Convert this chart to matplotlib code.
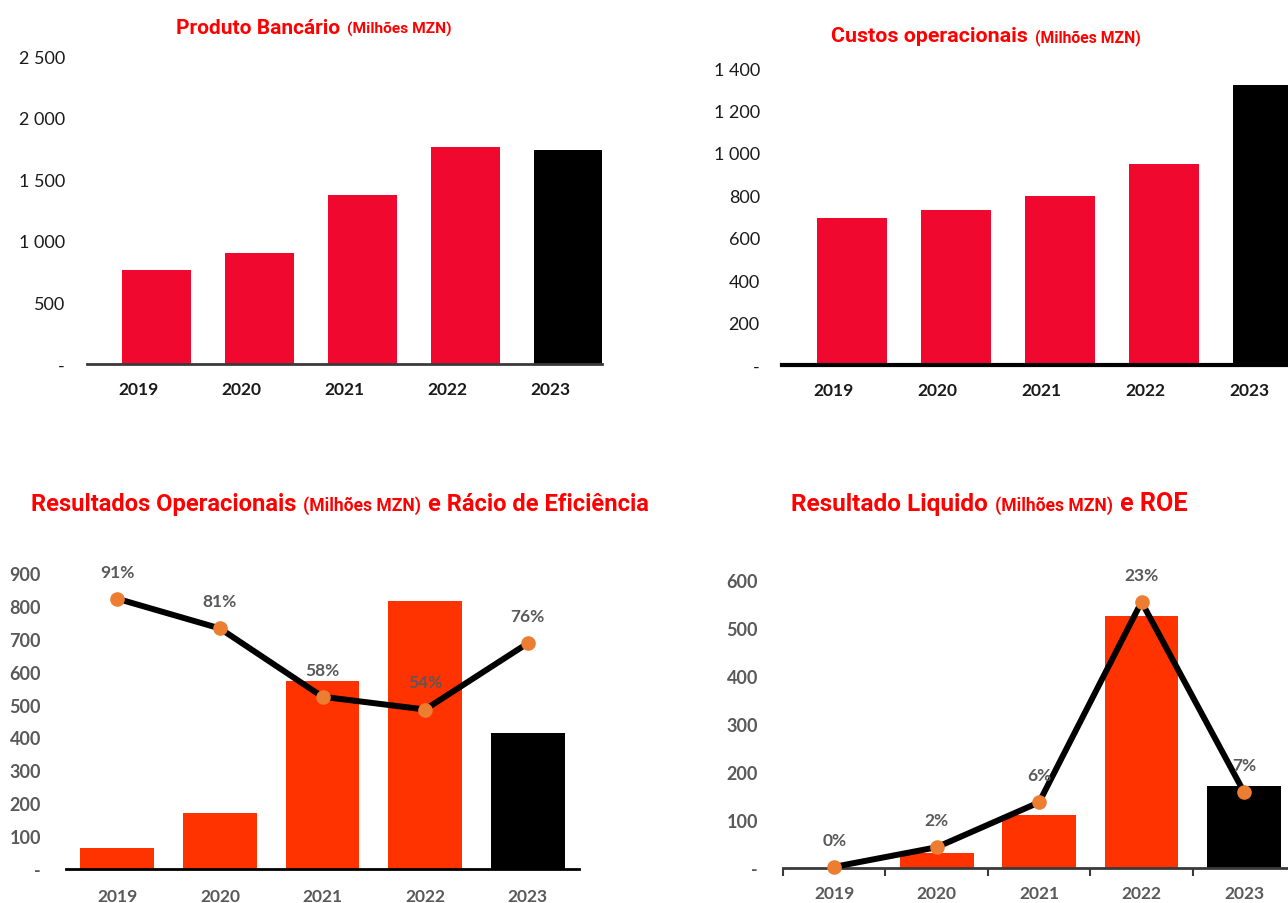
import matplotlib.pyplot as plt
from matplotlib.ticker import FuncFormatter, FixedLocator, MultipleLocator

# data
years = ["2019", "2020", "2021", "2022", "2023"]
produto_bancario = [763, 901, 1372, 1761, 1737]
custos_operacionais = [693, 731, 797, 948, 1321]
resultados_operacionais = [64, 170, 571, 815, 413]
racio_eficiencia = [0.91, 0.81, 0.58, 0.537, 0.76]
resultado_liquido = [0, 31, 110, 525, 171]
roe = [0.001, 0.018, 0.057, 0.231, 0.066]

RED = "#F0082F"
ORANGE_RED = "#FF3300"
MARKER = "#ED7D31"
TITLE_RED = "#FF0000"
GREY = "#595959"
TITLE_FONT = ["Roboto", "DejaVu Sans"]
TICK_FONT = ["Lato", "DejaVu Sans"]

W, H = 1288, 904
fig = plt.figure(figsize=(W / 100, H / 100), dpi=100)
fig.patch.set_facecolor("white")


def px_axes(left, right, bottom, top):
    # pixel box (from top-left corner) -> figure axes
    return fig.add_axes([left / W, 1 - bottom / H, (right - left) / W, (bottom - top) / H])


def thousands(v, pos=None):
    if abs(v) < 1e-9:
        return "-"
    return f"{v:,.0f}".replace(",", " ")


def mixed_title(xc, y_px, parts, gap=7):
    # parts: (text, width in px the piece takes in the reference)
    r = fig.canvas.get_renderer()
    texts, widths = [], []
    for s, target in parts:
        t = fig.text(0, 1 - y_px / H, s, fontsize=20, color=TITLE_RED, fontweight="bold",
                     family=TITLE_FONT, va="baseline", ha="left")
        w = t.get_window_extent(r).width
        t.set_fontsize(20 * target / w)
        texts.append(t)
        widths.append(t.get_window_extent(r).width)
    x = xc - (sum(widths) + gap * (len(widths) - 1)) / 2
    for t, w in zip(texts, widths):
        t.set_x(x / W)
        x += w + gap


def base_style(ax, ylim, step, tick_color, bold, spine_color, spine_w, pad_y, pad_x):
    for side in ["top", "right", "left"]:
        ax.spines[side].set_visible(False)
    ax.spines["bottom"].set_color(spine_color)
    ax.spines["bottom"].set_linewidth(spine_w)
    ax.set_ylim(*ylim)
    ax.yaxis.set_major_locator(MultipleLocator(step))
    ax.yaxis.set_major_formatter(FuncFormatter(thousands))
    ax.set_xticks(range(len(years)))
    ax.set_xticklabels(years)
    ax.tick_params(axis="y", length=0, pad=pad_y, labelsize=13, labelcolor=tick_color)
    ax.tick_params(axis="x", length=0, pad=pad_x, labelsize=12.5, labelcolor=tick_color)
    for lab in ax.get_yticklabels():
        lab.set_family(TICK_FONT)
        lab.set_fontweight("bold" if bold else "normal")
    for lab in ax.get_xticklabels():
        lab.set_family(TICK_FONT)
        lab.set_fontweight("bold")
    ax.set_facecolor("none")


x = list(range(len(years)))
bar_colors_top = [RED] * 4 + ["black"]
bar_colors_bottom = [ORANGE_RED] * 4 + ["black"]

# 1. Produto Bancario
ax1 = px_axes(87, 602, 365, 57)
ax1.bar([i + 0.175 for i in x], produto_bancario, width=0.67, color=bar_colors_top, zorder=2)
ax1.set_xlim(-0.5, 4.5)
base_style(ax1, (0, 2500), 500, "#1a1a1a", False, "#3a3a3a", 2.0, 16, 12)
mixed_title(314, 34, [("Produto Bancário", 163), ("(Milhões MZN)", 104)])

# 2. Custos operacionais
ax2 = px_axes(782, 1288, 366, 69)
ax2.bar([i + 0.175 for i in x], custos_operacionais, width=0.67, color=bar_colors_top, zorder=2)
ax2.set_xlim(-0.5, 4.37)
base_style(ax2, (0, 1400), 200, "#1a1a1a", False, "black", 3.0, 16, 12)
mixed_title(986, 42, [("Custos operacionais", 196), ("(Milhões MZN)", 106)])

# 3. Resultados operacionais + racio de eficiencia
ax3 = px_axes(66, 579, 870, 574)
ax3.bar(x, resultados_operacionais, width=0.72, color=bar_colors_bottom, zorder=2)
ax3.set_xlim(-0.5, 4.5)
base_style(ax3, (0, 900), 100, GREY, True, "black", 2.0, 18, 14)
ax3b = ax3.twinx()
ax3b.set_ylim(0, 900 / 903)
ax3b.axis("off")
ax3b.plot(x, racio_eficiencia, color="black", linewidth=4.3, marker="o", markersize=9.5,
          markerfacecolor=MARKER, markeredgecolor=MARKER, zorder=3)
for xi, v in zip(x, racio_eficiencia):
    ax3b.annotate(f"{v:.0%}", (xi, v), xytext=(0, 19.5), textcoords="offset points",
                  ha="center", va="center", fontsize=12.5, fontweight="bold",
                  color=GREY, family=TICK_FONT)
mixed_title(340, 511, [("Resultados Operacionais", 266), ("(Milhões MZN)", 118),
                       ("e Rácio de Eficiência", 221)])

# 4. Resultado liquido + ROE
ax4 = px_axes(783, 1288, 869, 581)
ax4.bar(x, resultado_liquido, width=0.72, color=bar_colors_bottom, zorder=2)
ax4.set_xlim(-0.5, 4.43)
base_style(ax4, (0, 600), 100, GREY, True, "#3a3a3a", 2.0, 18, 14)
ax4.xaxis.set_minor_locator(FixedLocator([-0.5, 0.5, 1.5, 2.5, 3.5]))
ax4.tick_params(axis="x", which="minor", length=6, width=1.5, color="#3a3a3a")
ax4.tick_params(axis="x", which="major", pad=12)
ax4b = ax4.twinx()
ax4b.set_ylim(0, 0.25)
ax4b.axis("off")
ax4b.plot(x, roe, color="black", linewidth=4.3, marker="o", markersize=9.5,
          markerfacecolor=MARKER, markeredgecolor=MARKER, zorder=3, clip_on=False)
for xi, v in zip(x, roe):
    ax4b.annotate(f"{v:.0%}", (xi, v), xytext=(0, 19.5), textcoords="offset points",
                  ha="center", va="center", fontsize=12.5, fontweight="bold",
                  color=GREY, family=TICK_FONT)
mixed_title(989, 511, [("Resultado Liquido", 197), ("(Milhões MZN)", 118), ("e ROE", 67)])

fig.savefig("out.png", dpi=100)
